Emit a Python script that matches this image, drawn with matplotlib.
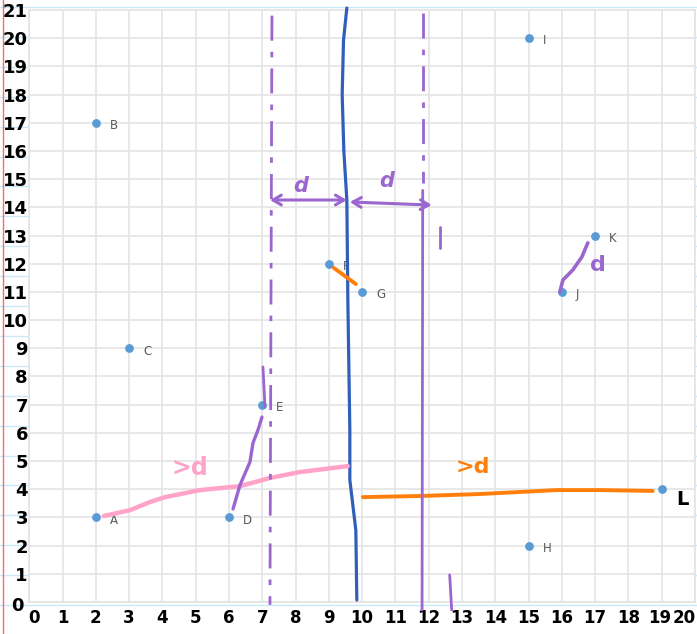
import numpy as np
import matplotlib.pyplot as plt
import matplotlib.transforms as mtransforms
from matplotlib.lines import Line2D

# scatter points
names=["A","B","C","D","E","F","G","H","I","J","K","L"]
xs=[2,2,3,6,7,9,10,15,15,16,17,19]
ys=[3,17,9,3,7,12,11,2,20,11,13,4]

x_ticks=list(range(0,21))
y_ticks=list(range(0,22))

# hand drawn strokes (data coords)
blue_x=[9.54,9.44,9.40,9.45,9.54,9.57,9.63,9.63,9.81,9.84]
blue_y=[21.07,19.93,18.0,16.0,14.26,10.71,6.10,4.33,2.55,0.07]

pink_x=[2.24,3.03,3.63,4.08,5.13,6.33,7.23,8.13,9.57]
pink_y=[3.05,3.26,3.55,3.72,3.97,4.11,4.40,4.61,4.82]

orange_x=[10.02,11.73,13.53,15.85,17.14,18.73]
orange_y=[3.72,3.76,3.83,3.97,3.97,3.94]

fg_x=[9.15,9.81]
fg_y=[11.85,11.28]

de_x=[6.12,6.33,6.63,6.72,6.87,6.99]
de_y=[3.30,4.15,4.97,5.64,6.10,6.56]
e_top_x=[7.02,7.08]
e_top_y=[8.34,6.92]

jk_x=[15.94,16.03,16.33,16.60,16.78]
jk_y=[11.00,11.42,11.78,12.24,12.74]

left_x=[7.29,7.23]
left_y=[20.8,-0.1]
right_dash_x=[11.82,11.82]
right_dash_y=[20.9,14.86]
right_solid_x=[11.82,11.80]
right_solid_y=[14.6,-0.28]
mark1_x=[12.33,12.33]
mark1_y=[13.3,12.56]
mark2_x=[12.63,12.69]
mark2_y=[0.96,-0.28]

arrow1=[(7.23,14.26),(9.54,14.26)]
arrow2=[(9.63,14.19),(12.09,14.08)]

purple="#9b66cf"
blue="#2f5fba"
pink="#ffa3c8"
orange="#ff7f0a"

fig=plt.figure(figsize=(6.97,6.34),dpi=100)

# notebook paper lines
for k in range(21):
    yy=1-(7+29.9*k)/634
    fig.add_artist(Line2D([0,1],[yy,yy],color="#c9e9f8",lw=1,zorder=0))
fig.add_artist(Line2D([3/697,3/697],[0,1],color="#f07070",lw=1,zorder=0))

ax=fig.add_axes([29.3/697,1-602/634,(695-29.3)/697,(602-10)/634])
ax.set_xlim(0,20)
ax.set_ylim(0,21)
ax.set_facecolor("white")
for s in ax.spines.values():
    s.set_color("#e4e4e4")
    s.set_linewidth(1.2)
ax.grid(True,color="#e4e4e4",lw=1.2)
ax.set_axisbelow(True)

ax.set_xticks(x_ticks)
ax.set_xticklabels([str(v) for v in x_ticks],fontsize=12,fontweight="heavy")
ax.set_yticks(y_ticks)
ax.set_yticklabels([str(v) for v in y_ticks],fontsize=13,fontweight="heavy")
ax.tick_params(axis="both",length=0)
ax.tick_params(axis="x",pad=5)
ax.tick_params(axis="y",pad=1)

# nudge the zero labels apart and keep the last ones inside the figure
xl0=ax.get_xticklabels()[0]
xl0.set_transform(xl0.get_transform()+mtransforms.ScaledTranslation(5/100,0,fig.dpi_scale_trans))
yl0=ax.get_yticklabels()[0]
yl0.set_transform(yl0.get_transform()+mtransforms.ScaledTranslation(-4/100,-2/100,fig.dpi_scale_trans))
xl19=ax.get_xticklabels()[-2]
xl19.set_transform(xl19.get_transform()+mtransforms.ScaledTranslation(-2/100,0,fig.dpi_scale_trans))
xl20=ax.get_xticklabels()[-1]
xl20.set_horizontalalignment("right")
xl20.set_transform(xl20.get_transform()+mtransforms.ScaledTranslation(1/100,0,fig.dpi_scale_trans))

ax.scatter(xs,ys,s=28,color="#5b9bd5",zorder=5,clip_on=False)
for n,x,y in zip(names,xs,ys):
    if n=="L":
        continue
    ax.annotate(n,(x,y),xytext=(10,-2),textcoords="offset points",
                fontsize=8.5,color="#595959",va="center")

kw=dict(solid_capstyle="round",clip_on=False,zorder=6)
ax.plot(blue_x,blue_y,color=blue,lw=2.3,**kw)
ax.plot(pink_x,pink_y,color=pink,lw=3.2,**kw)
ax.plot(orange_x,orange_y,color=orange,lw=2.8,**kw)
ax.plot(fg_x,fg_y,color=orange,lw=2.8,**kw)
ax.plot(de_x,de_y,color=purple,lw=2.4,**kw)
ax.plot(e_top_x,e_top_y,color=purple,lw=2.0,**kw)
ax.plot(jk_x,jk_y,color=purple,lw=2.6,**kw)
ax.plot(left_x,left_y,color=purple,lw=2.0,dashes=(9,4,2,4),clip_on=False,zorder=6)
ax.plot(right_dash_x,right_dash_y,color=purple,lw=2.0,dashes=(9,4,2,4),clip_on=False,zorder=6)
ax.plot(right_solid_x,right_solid_y,color=purple,lw=2.0,**kw)
ax.plot(mark1_x,mark1_y,color=purple,lw=2.0,**kw)
ax.plot(mark2_x,mark2_y,color=purple,lw=2.0,**kw)

for a in (arrow1,arrow2):
    ax.annotate("",xy=a[1],xytext=a[0],zorder=7,
                arrowprops=dict(arrowstyle="<->,head_length=0.6,head_width=0.35",
                                color=purple,lw=2.2,shrinkA=0,shrinkB=0))

ax.text(8.16,14.76,"d",color=purple,fontsize=15,fontweight="bold",
        fontstyle="italic",ha="center",va="center",zorder=7)
ax.text(10.74,14.93,"d",color=purple,fontsize=15,fontweight="bold",
        fontstyle="italic",ha="center",va="center",zorder=7)
ax.text(17.08,11.95,"d",color=purple,fontsize=16,fontweight="bold",
        ha="center",va="center",zorder=7)
ax.text(4.83,4.75,">d",color=pink,fontsize=17,fontweight="bold",
        ha="center",va="center",zorder=7)
ax.text(13.32,4.79,">d",color=orange,fontsize=16,fontweight="bold",
        ha="center",va="center",zorder=7)
ax.text(19.63,3.62,"L",color="black",fontsize=14,fontweight="heavy",
        ha="center",va="center",zorder=7,clip_on=False)

fig.savefig("out.png",dpi=100)
